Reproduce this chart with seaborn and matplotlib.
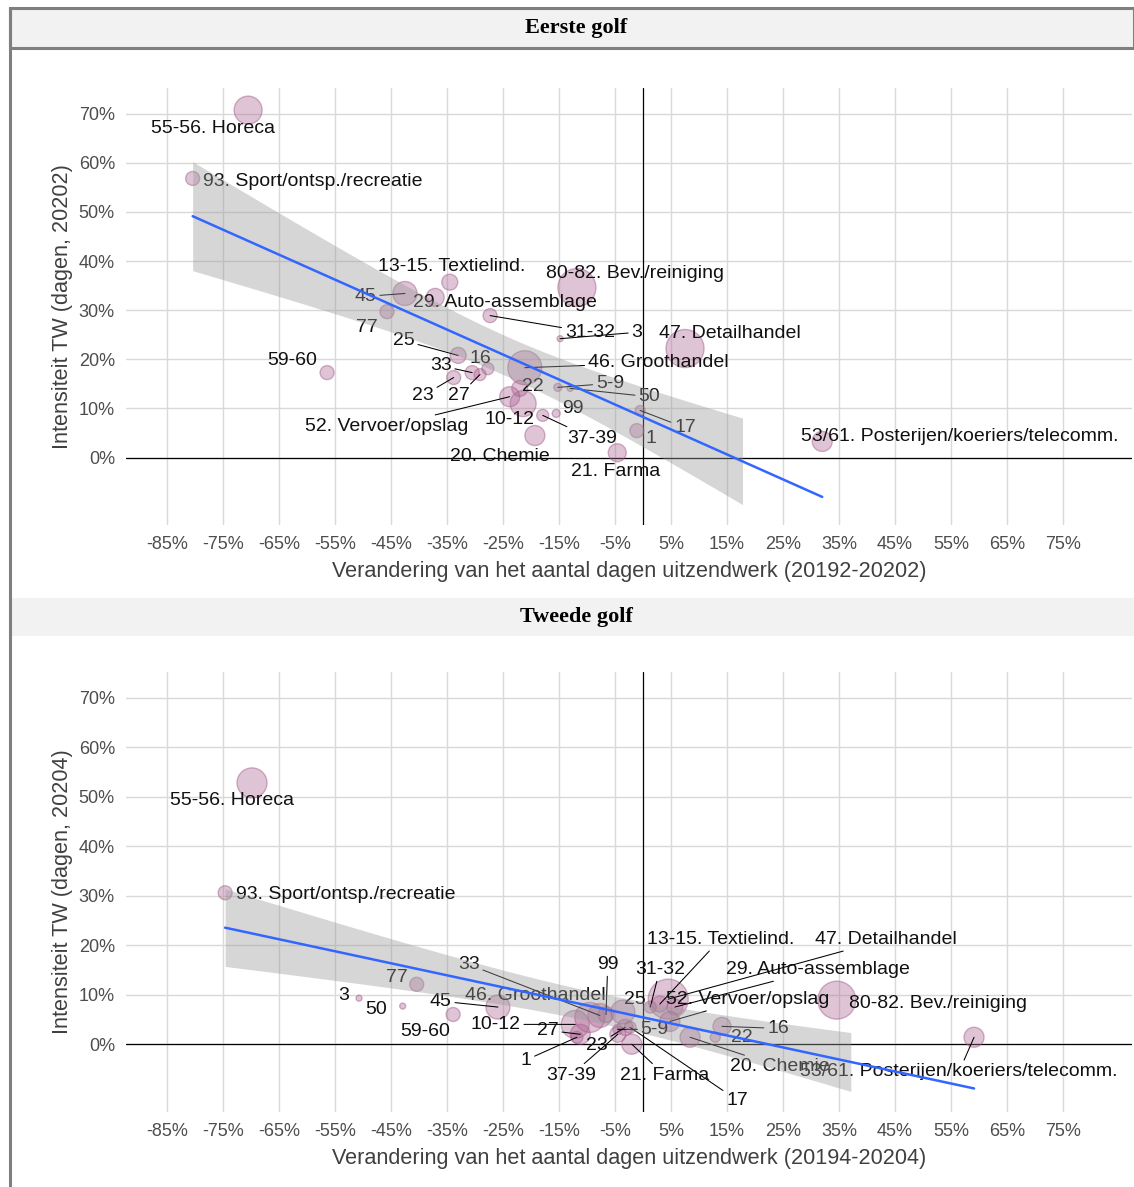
import numpy as np
import pandas as pd
import matplotlib
matplotlib.use("Agg")
import matplotlib.pyplot as plt
import seaborn as sns
from matplotlib.ticker import PercentFormatter
from matplotlib.patches import Rectangle
from matplotlib.lines import Line2D

sns.set_theme(style="white")
plt.rcParams["font.family"] = ["Liberation Sans", "DejaVu Sans"]
plt.rcParams["axes.unicode_minus"] = False

# ---- data -------------------------------------------------------------
codes = ["1", "3", "5-9", "10-12", "13-15", "16", "17", "20", "21", "22",
         "23", "25", "27", "29", "31-32", "33", "37-39", "45", "46", "47",
         "50", "52", "53/61", "55-56", "59-60", "77", "80-82", "93", "99"]
namen = ["1", "3", "5-9", "10-12", "13-15. Textielind.", "16", "17",
         "20. Chemie", "21. Farma", "22", "23", "25", "27",
         "29. Auto-assemblage", "31-32", "33", "37-39", "45",
         "46. Groothandel", "47. Detailhandel", "50", "52. Vervoer/opslag",
         "53/61. Posterijen/koeriers/telecomm.", "55-56. Horeca", "59-60",
         "77", "80-82. Bev./reiniging", "93. Sport/ontsp./recreatie", "99"]

# first wave: change in temp-work days (20192-20202) vs intensity (20202)
golf1_verandering = [-0.011, -0.148, -0.152, -0.214, -0.345, -0.277, -0.005,
                     -0.193, -0.046, -0.220, -0.338, -0.330, -0.291, -0.371,
                     -0.273, -0.305, -0.179, -0.425, -0.211, 0.075, -0.130,
                     -0.238, 0.320, -0.705, -0.564, -0.457, -0.118, -0.804,
                     -0.155]
golf1_intensiteit = [0.055, 0.242, 0.143, 0.110, 0.357, 0.181, 0.096, 0.045,
                     0.010, 0.141, 0.163, 0.208, 0.169, 0.326, 0.289, 0.173,
                     0.086, 0.334, 0.183, 0.222, 0.141, 0.124, 0.033, 0.707,
                     0.173, 0.297, 0.346, 0.568, 0.090]
golf1_omvang = [49, 9, 16, 169, 64, 36, 25, 100, 81, 64, 49, 64, 36, 81, 49,
                49, 36, 144, 289, 361, 9, 100, 100, 196, 49, 49, 361, 49, 16]

# second wave: change in temp-work days (20194-20204) vs intensity (20204)
golf2_verandering = [-0.118, -0.507, -0.045, -0.121, 0.030, 0.141, -0.023,
                     0.084, -0.020, 0.129, -0.032, -0.036, -0.112, 0.057,
                     0.013, -0.077, -0.045, -0.259, -0.095, 0.045, -0.429,
                     0.048, 0.591, -0.698, -0.339, -0.404, 0.346, -0.746,
                     -0.066]
golf2_intensiteit = [0.014, 0.093, 0.030, 0.040, 0.081, 0.036, 0.034, 0.014,
                     0.000, 0.014, 0.034, 0.065, 0.020, 0.075, 0.075, 0.058,
                     0.020, 0.075, 0.054, 0.091, 0.077, 0.046, 0.014, 0.528,
                     0.060, 0.121, 0.089, 0.306, 0.060]
golf2_omvang = [36, 9, 25, 196, 64, 81, 36, 100, 100, 25, 64, 144, 100, 64,
                36, 144, 64, 144, 225, 400, 9, 100, 100, 225, 49, 49, 361,
                49, 64]

x_ticks = [-0.85, -0.75, -0.65, -0.55, -0.45, -0.35, -0.25, -0.15, -0.05,
           0.05, 0.15, 0.25, 0.35, 0.45, 0.55, 0.65, 0.75]
y_ticks = [0.0, 0.1, 0.2, 0.3, 0.4, 0.5, 0.6, 0.7]
y_schaal_min = -0.10          # lower limit of the y scale (band is cut there)
T_975 = 2.0518                # Student t quantile, 27 degrees of freedom

# ---- label placement (text centre, with connector or not) -------------
labels_golf1 = {
    "55-56": (-0.768, 0.670, False), "93": (-0.589, 0.562, False),
    "59-60": (-0.627, 0.198, False), "77": (-0.493, 0.265, False),
    "45": (-0.495, 0.328, True), "29": (-0.246, 0.316, False),
    "13-15": (-0.341, 0.389, False), "31-32": (-0.095, 0.255, True),
    "3": (-0.011, 0.255, True), "80-82": (-0.014, 0.375, False),
    "47": (0.155, 0.253, False), "46": (0.027, 0.193, True),
    "25": (-0.427, 0.238, True), "33": (-0.361, 0.187, True),
    "16": (-0.291, 0.202, False), "23": (-0.393, 0.126, True),
    "27": (-0.329, 0.126, True), "22": (-0.196, 0.145, False),
    "52": (-0.457, 0.063, True), "10-12": (-0.238, 0.077, False),
    "20": (-0.255, 0.002, False), "37-39": (-0.091, 0.039, True),
    "99": (-0.125, 0.100, False), "5-9": (-0.059, 0.151, True),
    "50": (0.011, 0.124, True), "17": (0.075, 0.061, True),
    "1": (0.014, 0.039, False), "21": (-0.048, -0.029, False),
    "53/61": (0.566, 0.043, False),
}
labels_golf2 = {
    "55-56": (-0.734, 0.492, False), "93": (-0.530, 0.302, False),
    "3": (-0.534, 0.099, False), "50": (-0.477, 0.071, False),
    "77": (-0.439, 0.135, False), "59-60": (-0.388, 0.026, False),
    "45": (-0.361, 0.087, True), "10-12": (-0.263, 0.040, True),
    "27": (-0.170, 0.028, True), "1": (-0.209, -0.032, True),
    "46": (-0.193, 0.099, False), "33": (-0.311, 0.161, True),
    "99": (-0.063, 0.161, True), "25": (-0.014, 0.091, False),
    "23": (-0.082, -0.002, True), "37-39": (-0.129, -0.063, True),
    "5-9": (0.021, 0.030, True), "17": (0.168, -0.113, True),
    "21": (0.039, -0.063, True), "31-32": (0.030, 0.151, True),
    "13-15": (0.138, 0.212, True), "47": (0.434, 0.212, True),
    "29": (0.313, 0.151, True), "52": (0.186, 0.091, True),
    "20": (0.245, -0.046, True), "16": (0.241, 0.032, True),
    "22": (0.177, 0.014, False), "80-82": (0.527, 0.083, False),
    "53/61": (0.564, -0.056, True),
}

panels = [
    dict(titel="Eerste golf",
         x=golf1_verandering, y=golf1_intensiteit, omvang=golf1_omvang,
         labels=labels_golf1,
         xlabel="Verandering van het aantal dagen uitzendwerk (20192-20202)",
         ylabel="Intensiteit TW (dagen, 20202)"),
    dict(titel="Tweede golf",
         x=golf2_verandering, y=golf2_intensiteit, omvang=golf2_omvang,
         labels=labels_golf2,
         xlabel="Verandering van het aantal dagen uitzendwerk (20194-20204)",
         ylabel="Intensiteit TW (dagen, 20204)"),
]

# ---- figure ---------------------------------------------------------------
W, H = 1134, 1187
fig = plt.figure(figsize=(W / 100, H / 100), dpi=100)
fig.patch.set_facecolor("white")


def rect(left, top, right, bottom):
    return [left / W, 1 - bottom / H, (right - left) / W, (bottom - top) / H]


def lm_band(x, y, grid):
    """OLS fit with a pointwise 95% confidence band."""
    x = np.asarray(x, float)
    y = np.asarray(y, float)
    n = len(x)
    b, a = np.polyfit(x, y, 1)
    resid = y - (a + b * x)
    s = np.sqrt(np.sum(resid ** 2) / (n - 2))
    sxx = np.sum((x - x.mean()) ** 2)
    fit = a + b * grid
    se = s * np.sqrt(1 / n + (grid - x.mean()) ** 2 / sxx)
    return fit - T_975 * se, fit + T_975 * se


axes_boxes = [rect(126, 88, 1132, 525), rect(126, 672, 1132, 1112)]
strip_boxes = [(10, 8, 48, True), (12, 598, 636, False)]

point_face = (0.68, 0.40, 0.58, 0.38)
point_edge = (0.62, 0.34, 0.53, 0.45)
vmax = 400
smax = (2 * 20 * 0.72) ** 2

for i, p in enumerate(panels):
    ax = fig.add_axes(axes_boxes[i])
    df = pd.DataFrame({"code": codes, "naam": namen,
                       "x": p["x"], "y": p["y"], "omvang": p["omvang"]})

    ax.set_xticks(x_ticks)
    ax.set_yticks(y_ticks)
    ax.xaxis.set_major_formatter(PercentFormatter(1.0, decimals=0))
    ax.yaxis.set_major_formatter(PercentFormatter(1.0, decimals=0))
    ax.grid(True, color="#D9D9D9", lw=1.0, zorder=0)
    ax.set_axisbelow(True)
    for s in ax.spines.values():
        s.set_visible(False)
    ax.tick_params(length=0, pad=8, labelsize=13, labelcolor="#4D4D4D")
    ax.axhline(0, color="black", lw=0.9, zorder=1.2)
    ax.axvline(0, color="black", lw=0.9, zorder=1.2)

    sns.scatterplot(data=df, x="x", y="y", size="omvang",
                    sizes=(0, smax), size_norm=(0, vmax), legend=False,
                    ax=ax, zorder=2)
    pts = ax.collections[-1]
    pts.set_facecolor(point_face)
    pts.set_edgecolor(point_edge)
    pts.set_linewidth(1.0)

    # sector labels, with connectors where the text sits away from its point
    for _, row in df.iterrows():
        lx, ly, seg = p["labels"][row["code"]]
        if seg:
            ax.annotate(row["naam"], xy=(row["x"], row["y"]), xytext=(lx, ly),
                        ha="center", va="center", fontsize=14,
                        color="#111111", zorder=3,
                        arrowprops=dict(arrowstyle="-", color="black", lw=0.75,
                                        shrinkA=0, shrinkB=0))
        else:
            ax.text(lx, ly, row["naam"], ha="center", va="center",
                    fontsize=14, color="#111111", zorder=3)

    # linear fit; the confidence band is dropped where it leaves the y scale
    grid = np.linspace(df["x"].min(), df["x"].max(), 80)
    lo, hi = lm_band(df["x"], df["y"], grid)
    keep = lo >= y_schaal_min
    ax.fill_between(grid[keep], lo[keep], hi[keep], color="#999999",
                    alpha=0.4, lw=0, zorder=4)
    sns.regplot(data=df, x="x", y="y", scatter=False, ci=None,
                truncate=True, color="#3366FF",
                line_kws=dict(lw=1.8, zorder=5), ax=ax)

    ax.set_xlim(-0.923, 0.873)
    ax.set_ylim(-0.137, 0.752)
    ax.set_xlabel(p["xlabel"], fontsize=15.6, color="#404040", labelpad=6)
    ax.set_ylabel(p["ylabel"], fontsize=15.6, color="#404040", labelpad=4)

    # facet strip
    x0, top, bottom, border = strip_boxes[i]
    fig.add_artist(Rectangle((x0 / W, 1 - bottom / H), (W - x0) / W,
                             (bottom - top) / H, transform=fig.transFigure,
                             facecolor="#F2F2F2",
                             edgecolor="#7F7F7F" if border else "none",
                             lw=2.2 if border else 0))
    fig.text(576 / W, 1 - ((top + bottom) / 2) / H, p["titel"],
             ha="center", va="center", fontsize=16, fontweight="bold",
             family="Liberation Serif", color="black")

# outer frame on the left
fig.add_artist(Line2D([10 / W, 10 / W], [0, 1 - 8 / H],
                      transform=fig.transFigure, color="#7F7F7F", lw=2.2))

fig.savefig("out.png", dpi=100, facecolor="white")
